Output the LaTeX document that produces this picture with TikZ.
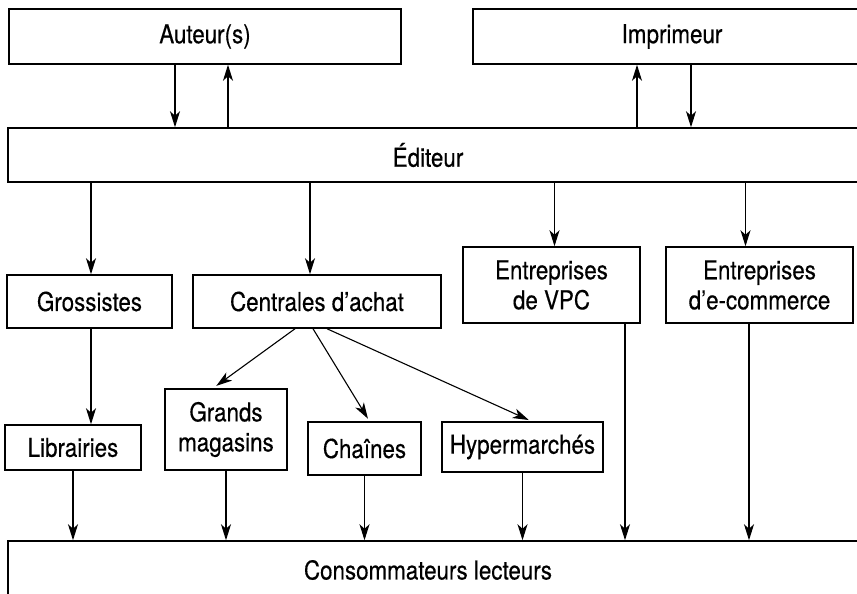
\documentclass[tikz,border=0pt]{standalone}
\usepackage{fontspec}
\setmainfont{TeX Gyre Heros}[FakeStretch=0.86, FakeBold=0.4]
\usepackage{tikz}
\usetikzlibrary{arrows.meta,calc}

\begin{document}
\begin{tikzpicture}[
    x=1pt, y=-1pt,
    font=\fontsize{26}{30}\selectfont,
    actor/.style={rectangle, draw, line width=1.5pt, inner sep=0pt, align=center},
    arrow/.style={->, >={Stealth[length=16pt,width=10pt,inset=4.5pt]}, line width=1.1pt}
]
\useasboundingbox (0,0) rectangle (857,594);
\clip (0,0) rectangle (857,594);

% top row
\node[actor, minimum width=392pt, minimum height=55pt] (auteur) at (205,36.5) {Auteur(s)};
\node[actor, minimum width=398pt, minimum height=55pt] (imprimeur) at (672,36.5) {Imprimeur};
\node[actor, minimum width=864pt, minimum height=54pt] (editeur) at (440,155) {\hspace*{-24pt}Éditeur};

% channels
\node[actor, minimum width=165pt, minimum height=53pt] (grossistes) at (89.5,301.5) {Grossistes};
\node[actor, minimum width=248pt, minimum height=53pt] (centrales) at (317,301.5) {Centrales d’achat};
\node[actor, minimum width=177pt, minimum height=76pt] (vpc) at (551.5,285) {Entreprises\\de VPC};
\node[actor, minimum width=187pt, minimum height=76pt] (ecommerce) at (759.5,285) {Entreprises\\d’e-commerce};

% shops
\node[actor, minimum width=136pt, minimum height=45pt] (librairies) at (73,447.5) {Librairies};
\node[actor, minimum width=122pt, minimum height=81pt] (grands) at (226,429.5) {Grands\\magasins};
\node[actor, minimum width=113pt, minimum height=53pt] (chaines) at (364.5,448.5) {Chaînes};
\node[actor, minimum width=161pt, minimum height=50pt] (hyper) at (522.5,447) {Hypermarchés};

\node[actor, minimum width=864pt, minimum height=58pt] (conso) at (440,570) {\hspace*{-24pt}Consommateurs lecteurs};

% auteur / imprimeur
\draw[arrow] ([xshift=-30pt]auteur.south) -- ([xshift=-30pt]auteur.south |- editeur.north);
\draw[arrow] ([xshift=23pt]auteur.south |- editeur.north) -- ([xshift=23pt]auteur.south);
\draw[arrow] ([xshift=-35pt]imprimeur.south |- editeur.north) -- ([xshift=-35pt]imprimeur.south);
\draw[arrow] ([xshift=19pt]imprimeur.south) -- ([xshift=19pt]imprimeur.south |- editeur.north);

% editeur to channels
\draw[arrow] ([xshift=1.5pt]grossistes.north |- editeur.south) -- ([xshift=1.5pt]grossistes.north);
\draw[arrow] ([xshift=-7pt]centrales.north |- editeur.south) -- ([xshift=-7pt]centrales.north);
\draw[arrow] ([xshift=3pt]vpc.north |- editeur.south) -- ([xshift=3pt]vpc.north);
\draw[arrow] ([xshift=-14pt]ecommerce.north |- editeur.south) -- ([xshift=-14pt]ecommerce.north);

% channels to shops
\draw[arrow] ([xshift=1.5pt]grossistes.south) -- ([xshift=1.5pt]grossistes.south |- librairies.north);
\draw[arrow, shorten >=4pt] ([xshift=-22pt]centrales.south) -- ([xshift=-13pt]grands.north);
\draw[arrow, shorten >=3pt] ([xshift=-4pt]centrales.south) -- ([xshift=5pt]chaines.north);
\draw[arrow, shorten >=3pt] ([xshift=10pt]centrales.south) -- ([xshift=9pt]hyper.north);

% to consumers
\foreach \shop in {librairies,grands,chaines,hyper}
  \draw[arrow] (\shop.south) -- (\shop.south |- conso.north);
\draw[arrow] ([xshift=73.5pt]vpc.south) -- ([xshift=73.5pt]vpc.south |- conso.north);
\draw[arrow] ([xshift=-10.5pt]ecommerce.south) -- ([xshift=-10.5pt]ecommerce.south |- conso.north);

\end{tikzpicture}
\end{document}
